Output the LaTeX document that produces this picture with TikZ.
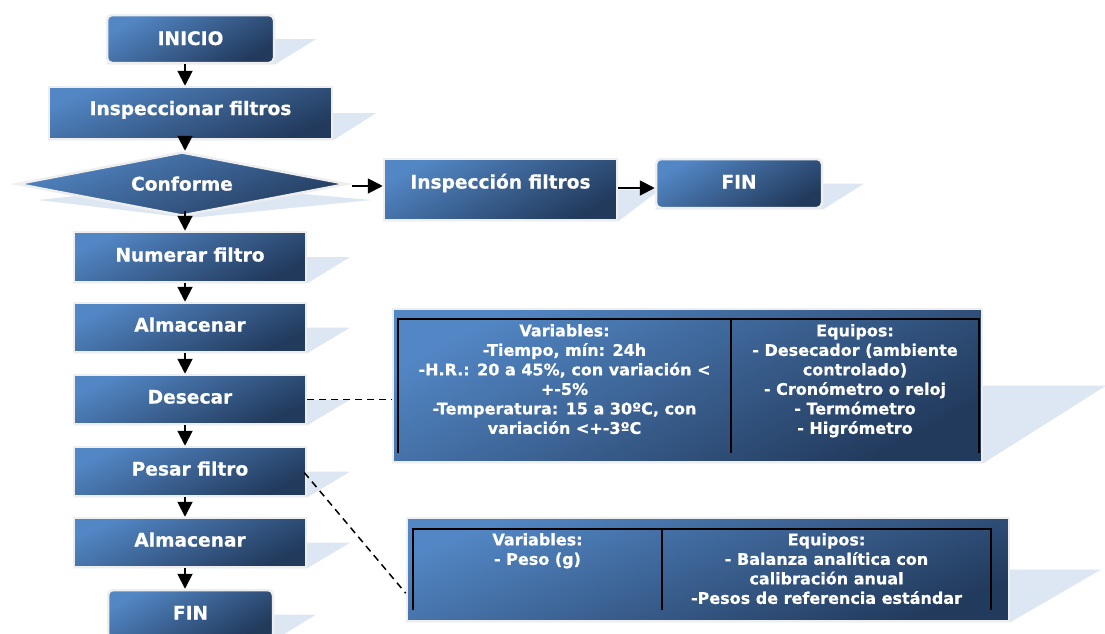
\documentclass[tikz,border=0pt]{standalone}
\usepackage{fontspec}
\setmainfont{DejaVu Sans}[BoldFeatures={FakeBold=0.6}]
\usetikzlibrary{arrows.meta,shapes.geometric,calc,backgrounds}
\definecolor{boxlight}{RGB}{82,134,196}
\definecolor{boxdark}{RGB}{34,58,92}
\definecolor{shadowblue}{RGB}{221,231,243}
\definecolor{rimgray}{RGB}{238,238,238}
\newcommand\boxshadow[2]{\fill[shadowblue] (#1.south west) -- (#1.south east) -- ($(#1.east)+(#2,0)$) -- ($(#1.west)+(#2,0)$) -- cycle;}
\begin{document}
\begin{tikzpicture}[x=1pt,y=-1pt,
  blueshade/.style={top color=boxlight, bottom color=boxdark, shading angle=26},
  box/.style={blueshade, draw=rimgray, line width=2.5pt, inner sep=0pt, text=white,
    font=\bfseries\fontsize{18.6}{22}\selectfont, text height=13pt, text depth=5pt},
  rbox/.style={box, rounded corners=5pt, shading angle=30},
  colbox/.style={box, minimum width=232pt, minimum height=49pt},
  tablebox/.style={blueshade, draw=rimgray, line width=2.5pt, inner sep=0pt},
  tabline/.style={line width=2pt, black},
  tabtext/.style={text=white, font=\bfseries\fontsize{16}{19.5}\selectfont, align=center, inner sep=0pt, anchor=north},
  arr/.style={line width=1.9pt, -{Triangle[width=15pt,length=15pt]}},
  conn/.style={line width=1.5pt, dash pattern=on 7pt off 5pt}]
\useasboundingbox (0,0) rectangle (1105,633);
\coordinate (axis) at (185,0);
% flow boxes
\node[rbox, minimum width=167pt, minimum height=48pt, text depth=1pt] (inicio) at (190.5,39) {INICIO};
\node[box, minimum width=283pt, minimum height=52pt, text depth=9pt, shading angle=22] (insp) at (190.5,113) {Inspeccionar filtros};
\node[diamond, aspect=5.16, blueshade, shading angle=22, draw=rimgray, line width=2.5pt, inner sep=0pt,
  minimum width=330pt, minimum height=64pt, text=white, font=\bfseries\fontsize{18.6}{22}\selectfont,
  text height=13pt, text depth=0pt] (conforme) at (182,184) {Conforme};
\node[box, minimum width=233pt, minimum height=61pt, text height=10pt, text depth=12pt, shading angle=28] (inspf) at (500.5,189.5) {Inspección filtros};
\node[rbox, minimum width=166pt, minimum height=49pt, text depth=3pt] (fin1) at (739,183.5) {FIN};
\node[colbox, minimum height=50pt, text depth=4pt] (numerar) at (190,257) {Numerar filtro};
\node[colbox] (alm1) at (190,327.5) {Almacenar};
\node[colbox] (desecar) at (190,399.5) {Desecar};
\node[colbox] (pesar) at (190,471.5) {Pesar filtro};
\node[colbox] (alm2) at (190,542.5) {Almacenar};
\node[rbox, minimum width=165pt, minimum height=49pt, text depth=3pt] (fin2) at (190.5,614.5) {FIN};
% tables
\node[tablebox, minimum width=589pt, minimum height=153pt, shading angle=28] (tab1) at (687.5,385.5) {};
\draw[tabline] (398,453) -- (398,319) -- (979,319) -- (979,453);
\draw[tabline] (731,319) -- (731,453);
\node[tabtext] (t1var) at (564.5,324) {Variables:\\-Tiempo, mín: 24h\\-H.R.: 20 a 45\%, con variación <\\+-5\%\\-Temperatura: 15 a 30ºC, con\\variación <+-3ºC};
\node[tabtext] (t1eq) at (855,324) {Equipos:\\- Desecador (ambiente\\controlado)\\- Cronómetro o reloj\\- Termómetro\\- Higrómetro};
\node[tablebox, minimum width=602pt, minimum height=103pt, shading angle=22] (tab2) at (708,569.5) {};
\draw[tabline] (413,610) -- (413,529) -- (991,529) -- (991,610);
\draw[tabline] (662,529) -- (662,610);
\node[tabtext] (t2var) at (537.5,533) {Variables:\\- Peso (g)};
\node[tabtext] (t2eq) at (826.5,533) {Equipos:\\- Balanza analítica con\\calibración anual\\-Pesos de referencia estándar};
% shadows
\begin{scope}[on background layer]
\boxshadow{inicio}{41}
\boxshadow{insp}{43}
\boxshadow{inspf}{42}
\boxshadow{fin1}{41}
\boxshadow{numerar}{43}
\boxshadow{alm1}{43}
\boxshadow{desecar}{43}
\boxshadow{pesar}{43}
\boxshadow{alm2}{43}
\boxshadow{fin2}{42}
\boxshadow{tab1}{123}
\boxshadow{tab2}{91}
\fill[shadowblue] (38,200) -- (190,184) -- (372,200) -- (190,218) -- cycle;
\end{scope}
% connectors
\draw[arr] (inicio.south -| axis) -- (insp.north -| axis);
\draw[arr] (insp.south -| axis) -- (conforme.north -| axis);
\draw[arr] ($(conforme.south -| axis)+(0,-6)$) -- (numerar.north -| axis);
\draw[arr] (numerar.south -| axis) -- (alm1.north -| axis);
\draw[arr] (alm1.south -| axis) -- (desecar.north -| axis);
\draw[arr] (desecar.south -| axis) -- (pesar.north -| axis);
\draw[arr] (pesar.south -| axis) -- (alm2.north -| axis);
\draw[arr] (alm2.south -| axis) -- (fin2.north -| axis);
\draw[arr] ($(conforme.east)+(4,2)$) -- ($(conforme.east -| inspf.west)+(0,2)$);
\draw[arr] ($(inspf.east)+(0,-1.5)$) -- ($(inspf.east -| fin1.west)+(0,-1.5)$);
\draw[conn] (desecar.east) -- (desecar.east -| tab1.west);
\coordinate (t2in) at ($(tab2.south west)+(0,-29)$);
\draw[conn] ($(pesar.east)+(-3,1)$) -- (t2in);
\end{tikzpicture}
\end{document}
